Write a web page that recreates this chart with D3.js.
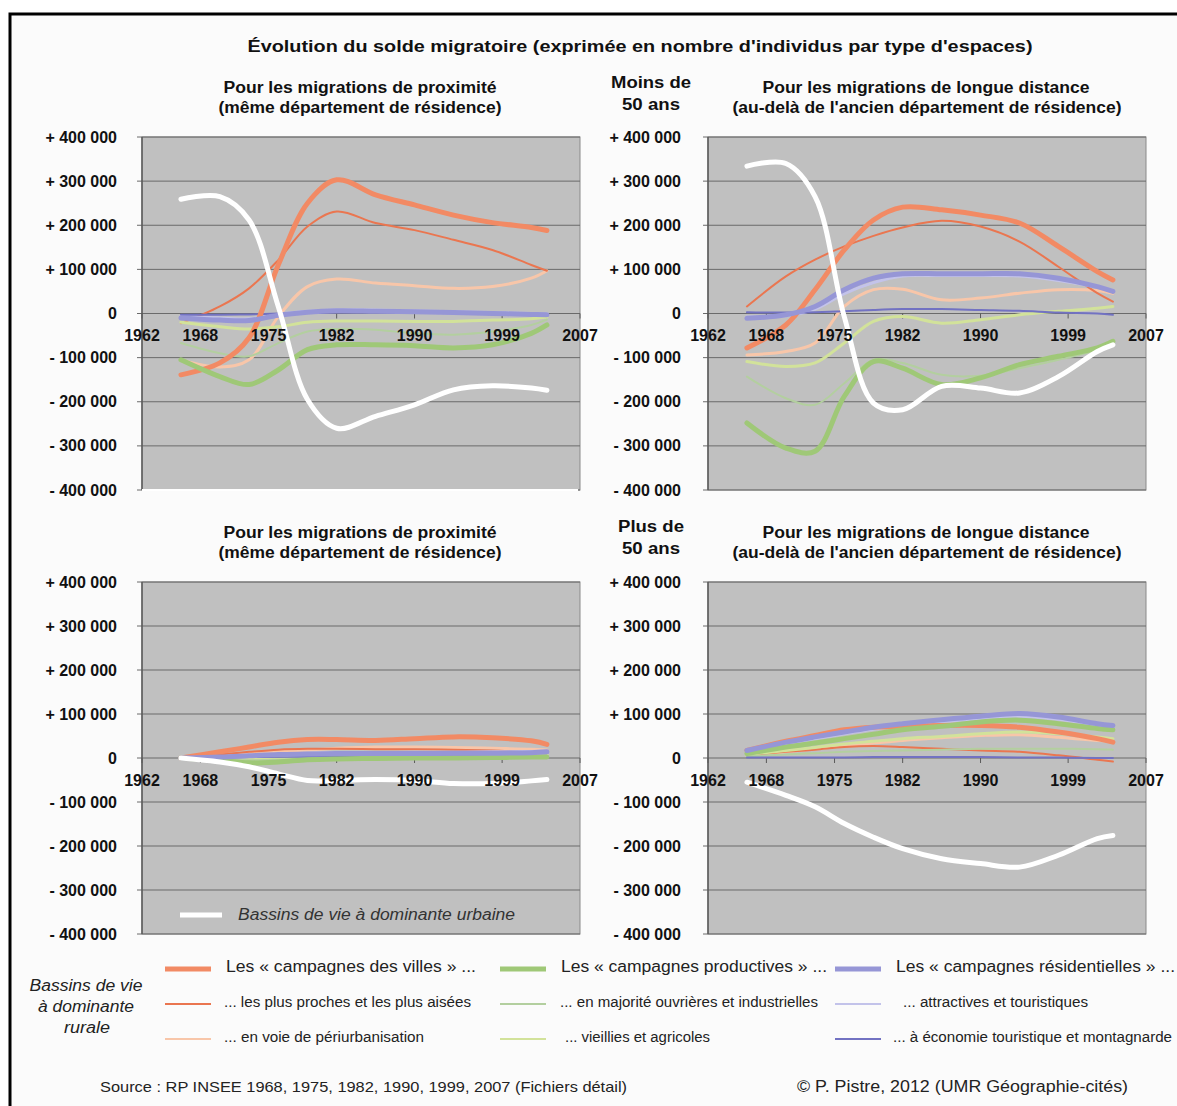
<!DOCTYPE html>
<html><head><meta charset="utf-8">
<script src="https://cdn.jsdelivr.net/npm/d3@7"></script>
<style>body{margin:0;background:#fff}svg{display:block;font-family:"Liberation Sans",Arial,sans-serif}</style>
</head><body>
<svg id="c" width="1177" height="1106"></svg>
<script>
// ---------- DATA (values in thousands of persons) ----------
const years = [1966, 1970, 1973, 1976, 1979, 1982, 1986, 1990, 1994, 1998, 2002, 2003.6];
const xTickYears = [1962, 1968, 1975, 1982, 1990, 1999, 2007];
const yTickValues = [400, 300, 200, 100, 0, -100, -200, -300, -400];

// Moins de 50 ans - proximité
const proxMoins = {
  villesB: [-105, -121, -105, -7, 61, 78, 69, 63, 57, 61, 80, 97],
  villesA: [-22, 16, 57, 121, 197, 231, 205, 189, 167, 144, 110, 97],
  prodB:   [-20, -30, -35, -30, -20, -17, -17, -18, -18, -15, -12, -8],
  prodA:   [-67, -90, -97, -67, -41, -35, -37, -45, -48, -41, -26, -14],
  residA:  [-6, -10, -12, -2, 5, 8, 8, 6, 4, 2, 0, -1],
  residB:  [-3, -3, -2, 0, 1, 2, 2, 1, 1, 0, -1, -2],
  villes:  [-139, -112, -55, 110, 250, 303, 269, 246, 223, 206, 195, 188],
  prod:    [-105, -143, -161, -128, -82, -71, -71, -73, -78, -71, -45, -26],
  resid:   [-10, -15, -16, -4, 3, 6, 5, 4, 2, 0, -2, -3],
  urb:     [259, 265, 212, 16, -195, -260, -233, -207, -173, -164, -169, -174]
};
// Moins de 50 ans - longue distance
const longMoins = {
  villesB: [-94, -86, -67, 16, 54, 55, 31, 35, 46, 54, 52, 46],
  villesA: [16, 84, 122, 152, 176, 195, 210, 197, 163, 106, 46, 27],
  prodB:   [-109, -120, -112, -67, -18, -7, -22, -14, -3, 5, 12, 16],
  prodA:   [-143, -192, -207, -158, -105, -112, -139, -141, -124, -105, -82, -67],
  residA:  [-8, -5, 10, 45, 70, 85, 86, 86, 85, 75, 60, 52],
  residB:  [3, 2, 3, 5, 8, 10, 10, 8, 6, 2, 0, -3],
  villes:  [-78, -26, 54, 144, 212, 241, 235, 223, 205, 152, 95, 76],
  prod:    [-248, -305, -312, -188, -109, -124, -161, -146, -116, -97, -78, -63],
  resid:   [-11, -3, 16, 54, 80, 90, 90, 90, 90, 80, 61, 50],
  urb:     [334, 340, 265, -7, -203, -218, -165, -169, -180, -143, -86, -71]
};
// Plus de 50 ans - proximité
const proxPlus = {
  villesB: [0, 6, 10, 15, 18, 22, 25, 25, 24, 22, 20, 18],
  villesA: [0, 8, 14, 19, 21, 21, 20, 20, 19, 17, 14, 14],
  prodB:   [0, -2, -3, -2, 0, 1, 2, 2, 3, 4, 5, 6],
  prodA:   [0, -3, -5, -4, -2, -1, -1, 0, 0, 1, 2, 3],
  residA:  [0, 3, 6, 9, 11, 12, 12, 13, 13, 14, 15, 16],
  residB:  [0, 1, 2, 3, 3, 4, 4, 4, 4, 5, 5, 5],
  villes:  [0, 14, 25, 36, 42, 42, 40, 44, 48, 46, 39, 31],
  prod:    [0, -5, -11, -9, -4, -2, -1, 0, 0, 1, 2, 2],
  resid:   [0, 2, 5, 8, 9, 10, 10, 10, 11, 11, 12, 14],
  urb:     [0, -9, -20, -36, -51, -51, -49, -51, -58, -58, -52, -49]
};
// Plus de 50 ans - longue distance
const longPlus = {
  villesB: [6, 14, 21, 28, 34, 40, 46, 51, 53, 47, 40, 39],
  villesA: [6, 14, 19, 25, 27, 25, 21, 17, 14, 6, -4, -8],
  prodB:   [8, 17, 24, 32, 38, 44, 49, 55, 59, 55, 48, 44],
  prodA:   [4, 8, 11, 14, 16, 17, 19, 21, 21, 21, 20, 19],
  residA:  [15, 32, 44, 55, 66, 74, 83, 90, 95, 88, 75, 70],
  residB:  [1, 1, 1, 1, 2, 2, 2, 2, 1, 1, 0, 0],
  villes:  [17, 38, 51, 64, 70, 72, 74, 74, 70, 59, 44, 36],
  prod:    [10, 25, 34, 44, 54, 64, 72, 82, 86, 78, 67, 64],
  resid:   [17, 36, 48, 59, 70, 78, 87, 95, 101, 93, 78, 74],
  urb:     [-55, -85, -111, -149, -180, -206, -229, -240, -248, -221, -183, -176]
};

const seriesOrder = ["villesB","villesA","prodB","prodA","residA","residB","villes","prod","resid","urb"];
const seriesLabels = {
  villes: "Les « campagnes des villes » ...",
  villesA: "... les plus proches et les plus aisées",
  villesB: "... en voie de périurbanisation",
  prod: "Les « campagnes productives » ...",
  prodA: "... en majorité ouvrières et industrielles",
  prodB: "... vieillies et agricoles",
  resid: "Les « campagnes résidentielles » ...",
  residA: "... attractives et touristiques",
  residB: "... à économie touristique et montagnarde",
  urb: "Bassins de vie à dominante urbaine"
};

// ---------- STYLES ----------
const colors = {
  villes: "#f28a64", villesA: "#ea7650", villesB: "#f8c6a9",
  prod: "#9fc877", prodA: "#b3cf9f", prodB: "#d2e29a",
  resid: "#9696d6", residA: "#c3c3ea", residB: "#7272c2",
  urb: "#ffffff"
};
const widths = {
  villes: 5, villesA: 2, villesB: 3,
  prod: 5, prodA: 2, prodB: 3,
  resid: 5, residA: 3, residB: 2,
  urb: 5
};

const svg = d3.select("#c");
svg.append("rect").attr("width", 1177).attr("height", 1106).attr("fill", "#fff");
svg.append("rect").attr("x", 10).attr("y", 14).attr("width", 1200).attr("height", 1200)
  .attr("fill", "#fbfbfb").attr("stroke", "#000").attr("stroke-width", 3);

function txt(x, y, s, o) {
  o = o || {};
  const t = svg.append("text").attr("x", x).attr("y", y).text(s)
    .attr("font-size", o.size || 16)
    .attr("font-weight", o.weight || "normal")
    .attr("font-style", o.style || "normal")
    .attr("text-anchor", o.anchor || "start")
    .attr("fill", o.fill || "#111");
  if (o.len) t.attr("textLength", o.len).attr("lengthAdjust", "spacingAndGlyphs");
  if (o.baseline) t.attr("dominant-baseline", o.baseline);
  return t;
}

const fmt = v => v === 0 ? "0" : (v > 0 ? "+ " : "- ") + d3.format(",")(Math.abs(v) * 1000).replace(/,/g, " ");

function panel(data, x0, x1, y0, y1, labelRight, extraWhiteBottom) {
  const x = d3.scaleLinear().domain([1962, 2007]).range([x0, x1]);
  const y = d3.scaleLinear().domain([-400, 400]).range([y1, y0]);
  const g = svg.append("g");
  g.append("rect").attr("x", x0).attr("y", y0).attr("width", x1 - x0).attr("height", y1 - y0)
    .attr("fill", "#c0c0c0").attr("stroke", "#8a8a8a").attr("stroke-width", 1);
  // gridlines + y ticks
  yTickValues.forEach(v => {
    g.append("line").attr("x1", x0 - 5).attr("x2", x1).attr("y1", y(v)).attr("y2", y(v))
      .attr("stroke", "#6a6a6a").attr("stroke-width", 1);
    txt(labelRight, y(v), fmt(v), {size: 16, weight: "bold", anchor: "end", baseline: "central"});
  });
  // left axis
  g.append("line").attr("x1", x0).attr("x2", x0).attr("y1", y0).attr("y2", y1)
    .attr("stroke", "#5a5a5a").attr("stroke-width", 1.5);
  // x ticks on zero line
  xTickYears.forEach(yr => {
    g.append("line").attr("x1", x(yr)).attr("x2", x(yr)).attr("y1", y(0)).attr("y2", y(0) + 5)
      .attr("stroke", "#5a5a5a").attr("stroke-width", 1);
    txt(x(yr), y(0) + 22, String(yr), {size: 16, weight: "bold", anchor: "middle", baseline: "central"});
  });
  if (extraWhiteBottom) {
    g.append("line").attr("x1", x0).attr("x2", x1 - 2).attr("y1", y(-400)).attr("y2", y(-400))
      .attr("stroke", "#fff").attr("stroke-width", 2);
  }
  const line = d3.line().x((d, i) => x(years[i])).y(d => y(d)).curve(d3.curveCatmullRom.alpha(0.5));
  seriesOrder.forEach(k => {
    g.append("path").attr("d", line(data[k])).attr("fill", "none")
      .attr("stroke", colors[k]).attr("stroke-width", widths[k])
      .attr("stroke-linecap", "round").attr("stroke-linejoin", "round");
  });
}

panel(proxMoins, 142, 580, 137, 490, 117, true);
panel(longMoins, 708, 1146, 137, 490, 681, false);
panel(proxPlus, 142, 580, 582, 934, 117, false);
panel(longPlus, 708, 1146, 582, 934, 681, false);

// ---------- TITLES ----------
txt(640, 52, "Évolution du solde migratoire (exprimée en nombre d'individus par type d'espaces)", {size: 17, weight: "bold", anchor: "middle", len: 785});
[[0, "Moins de", 80, 88], [445, "Plus de", 66, 532]].forEach(([dy, lab, w, by]) => {
  txt(360, 93 + dy, "Pour les migrations de proximité", {size: 16, weight: "bold", anchor: "middle", len: 273});
  txt(360, 113 + dy, "(même département de résidence)", {size: 16, weight: "bold", anchor: "middle", len: 283});
  txt(926, 93 + dy, "Pour les migrations de longue distance", {size: 16, weight: "bold", anchor: "middle", len: 327});
  txt(927, 113 + dy, "(au-delà de l'ancien département de résidence)", {size: 16, weight: "bold", anchor: "middle", len: 389});
  txt(651, by, lab, {size: 16, weight: "bold", anchor: "middle", len: w});
  txt(651, by + 22, "50 ans", {size: 16, weight: "bold", anchor: "middle", len: 58});
});

// ---------- URBAN LEGEND (inside bottom-left panel) ----------
svg.append("line").attr("x1", 180).attr("x2", 222).attr("y1", 915).attr("y2", 915)
  .attr("stroke", colors.urb).attr("stroke-width", widths.urb);
txt(238, 920, seriesLabels.urb, {size: 16, style: "italic", fill: "#333", len: 277});

// ---------- RURAL LEGEND ----------
txt(86, 991, "Bassins de vie", {size: 16, style: "italic", anchor: "middle", fill: "#222", len: 113});
txt(86, 1012, "à dominante", {size: 16, style: "italic", anchor: "middle", fill: "#222", len: 96});
txt(87, 1033, "rurale", {size: 16, style: "italic", anchor: "middle", fill: "#222", len: 46});

const legendCols = [
  {keys: ["villes", "villesA", "villesB"], sx: 165, tx: [226, 224, 224], len: [250, 247, 200]},
  {keys: ["prod", "prodA", "prodB"], sx: 500, tx: [561, 560, 565], len: [266, 258, 145]},
  {keys: ["resid", "residA", "residB"], sx: 835, tx: [896, 903, 893], len: [279, 185, 279]}
];
const rowY = [967, 1002, 1037];
legendCols.forEach(col => {
  col.keys.forEach((k, i) => {
    svg.append("line").attr("x1", col.sx).attr("x2", col.sx + 46)
      .attr("y1", rowY[i] + 2).attr("y2", rowY[i] + 2)
      .attr("stroke", colors[k]).attr("stroke-width", i === 0 ? 5 : 2);
    txt(col.tx[i], rowY[i] + (i === 0 ? 5 : 5), seriesLabels[k], {size: i === 0 ? 16 : 14, fill: "#222", len: col.len[i]});
  });
});

// ---------- FOOTER ----------
txt(100, 1092, "Source : RP INSEE 1968, 1975, 1982, 1990, 1999, 2007 (Fichiers détail)", {size: 15, fill: "#222", len: 527});
txt(797, 1092, "© P. Pistre, 2012 (UMR Géographie-cités)", {size: 16, fill: "#222", len: 331});
</script>
</body></html>
